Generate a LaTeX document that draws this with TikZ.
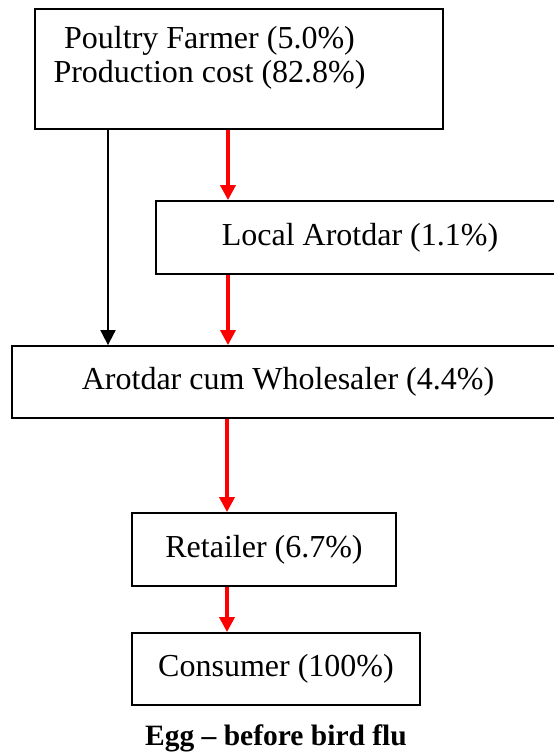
\documentclass[tikz,border=0pt]{standalone}
\usepackage{fontspec}
\setmainfont{Liberation Serif}
\usetikzlibrary{arrows.meta}
\begin{document}
\begin{tikzpicture}[x=1pt,y=-1pt,
  box/.style={draw, line width=1.8pt, rectangle, inner sep=0pt,
    font=\fontsize{32}{34}\selectfont},
  label/.style={inner sep=0pt, align=center, font=\fontsize{32}{34}\selectfont},
  flowred/.style={draw=red, line width=3.5pt,
    -{Triangle[width=15pt,length=15pt]}, red},
  flowblack/.style={draw=black, line width=1.8pt,
    -{Triangle[width=15pt,length=15pt]}}]
\useasboundingbox (0,0) rectangle (554,753);
\clip (0,0) rectangle (554,753);
\fill[white] (0,0) rectangle (554,753);

% stages of the chain
\node[box, minimum width=408pt, minimum height=120pt] (farmer) at (239,69) {};
\node[label] (farmertext) at (209.5,58) {Poultry Farmer (5.0\%)\\Production cost (82.8\%)};
\node[box, minimum width=408pt, minimum height=73pt] (local) at (360,237.5) {Local Arotdar (1.1\%)};
\node[box, minimum width=552pt, minimum height=72pt] (wholesale) at (288,382) {Arotdar cum Wholesaler (4.4\%)};
\node[box, minimum width=264pt, minimum height=73pt] (retail) at (264,549.5) {Retailer (6.7\%)};
\node[box, minimum width=288pt, minimum height=72pt] (consumer) at (276,669) {Consumer (100\%)};
\node[inner sep=0pt, anchor=base, font=\fontsize{29.5}{32}\selectfont\bfseries] (caption) at (276,745) {Egg -- before bird flu};

% connector columns
\coordinate (bx) at (108,0);
\coordinate (rx) at (228,0);
\coordinate (rxl) at (227,0);

\draw[flowblack] (bx |- farmer.south) -- (bx |- wholesale.north);
\draw[flowred] (rx |- farmer.south) -- (rx |- local.north);
\draw[flowred] (rx |- local.south) -- (rx |- wholesale.north);
\draw[flowred] (rxl |- wholesale.south) -- (rxl |- retail.north);
\draw[flowred] (rxl |- retail.south) -- (rxl |- consumer.north);
\end{tikzpicture}
\end{document}
